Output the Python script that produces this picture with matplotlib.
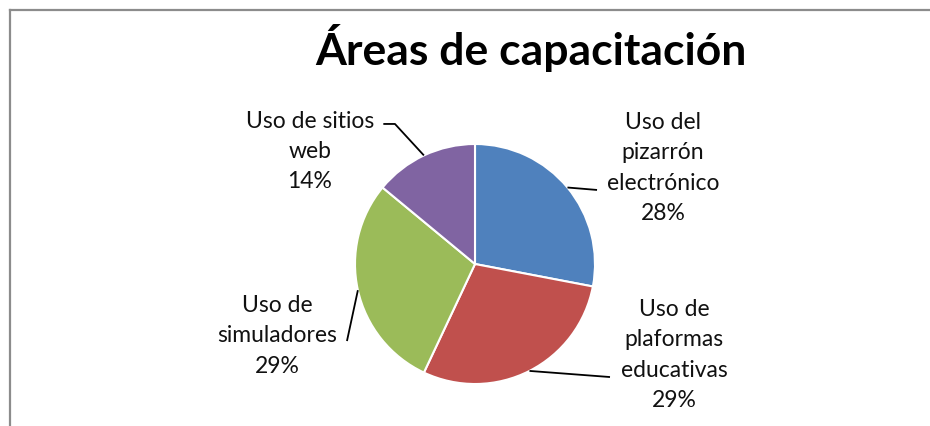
import numpy as np
import matplotlib
matplotlib.use('Agg')
import matplotlib.pyplot as plt
from matplotlib.lines import Line2D

# datos
areas = ['Uso del\npizarrón\nelectrónico', 'Uso de\nplaformas\neducativas',
         'Uso de\nsimuladores', 'Uso de sitios\nweb']
porcentajes = [28, 29, 29, 14]
colores = ['#4F81BD', '#C0504D', '#9BBB59', '#8064A2']
titulo = 'Áreas de capacitación'

W, H = 930, 427
fig = plt.figure(figsize=(W / 100, H / 100), dpi=100)
plt.rcParams['font.family'] = ['Lato', 'DejaVu Sans']

# marco gris (recortado a la derecha y abajo)
fig.add_artist(Line2D([10 / W, 10 / W], [0, 1 - 11 / H], color='#8c8c8c', lw=1.6,
                      transform=fig.transFigure))
fig.add_artist(Line2D([10 / W, 1], [1 - 11 / H, 1 - 11 / H], color='#8c8c8c', lw=1.6,
                      transform=fig.transFigure))

fig.text(531 / W, 1 - 65 / H, titulo, ha='center', va='baseline',
         fontsize=32, fontweight='bold', color='black')

cx, cy, r = 475, 265, 120
ax = fig.add_axes([(cx - r) / W, (H - cy - r) / H, 2 * r / W, 2 * r / H])
wedges, _ = ax.pie(porcentajes, colors=colores, startangle=90, counterclock=False,
                   radius=1, wedgeprops=dict(edgecolor='white', linewidth=1.5))
ax.set_xlim(-1, 1)
ax.set_ylim(-1, 1)
ax.set_aspect('equal')
ax.axis('off')

# posiciones de etiquetas y puntos finales de las guías (coordenadas del pie)
pos_texto = [(1.567, 0.808), (1.658, -0.75), (-1.65, -0.59), (-1.375, 0.946)]
guias = [[(1.017, 0.617)], [(1.125, -0.942)], [(-1.067, -0.642)],
         [(-0.667, 1.167), (-0.764, 1.167)]]

for w, nombre, p, (tx, ty), g in zip(wedges, areas, porcentajes, pos_texto, guias):
    ang = np.deg2rad((w.theta1 + w.theta2) / 2)
    pts = [(np.cos(ang), np.sin(ang))] + g
    xs, ys = zip(*pts)
    ax.plot(xs, ys, color='black', lw=1.3, clip_on=False, solid_capstyle='butt')
    ax.text(tx, ty, f'{nombre}\n{p}%', ha='center', va='center', fontsize=16.5,
            linespacing=1.55, color='#111111', clip_on=False)

fig.savefig('out.png', dpi=100, facecolor='white')
